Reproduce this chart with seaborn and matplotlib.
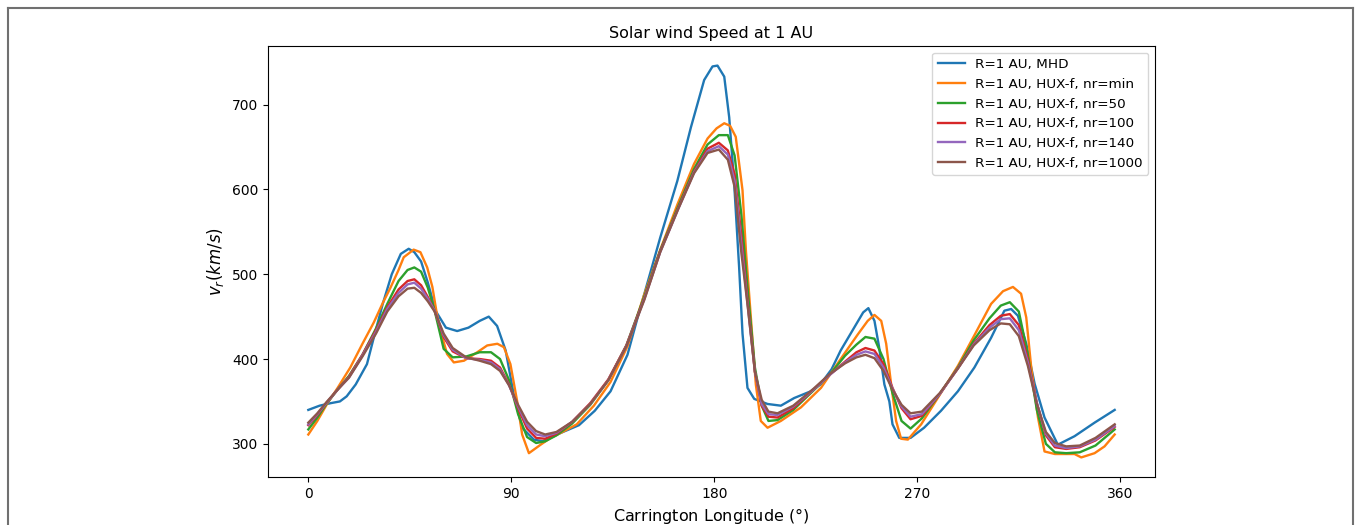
import matplotlib
matplotlib.use("Agg")
import matplotlib.pyplot as plt
import seaborn as sns
import pandas as pd
from matplotlib.lines import Line2D

# ---------------- data ----------------
MHD_LON = [0, 5, 10, 14, 17, 21, 26, 29, 33, 37, 41, 44.5, 47, 50, 53, 56.4, 61, 66, 71, 76,
           80, 83.7, 87.5, 91, 94.8, 100, 104, 107, 112, 120, 127, 134, 141.5, 146, 149, 156,
           163.6, 169.6, 175.5, 179.2, 181.4, 184.4, 186.6, 188.8, 191, 192.5, 194.7, 197.7,
           203.6, 209.5, 215.4, 222.8, 227, 232, 236, 242, 246, 248.3, 251, 253, 255.4, 257.6,
           259, 262, 267, 273, 280.5, 288, 295.3, 302.7, 308.6, 311.6, 314.6, 318.3, 322, 326.4,
           332.3, 339.7, 348.6, 357.5]
MHD_V = [340, 345, 348, 350, 356, 370, 394, 425, 465, 500, 524, 530, 526, 515, 490, 457, 437,
         433, 437, 445, 450, 439, 410, 359, 319, 305, 303, 307, 313, 322, 339, 362, 405, 449,
         477, 543, 610, 673, 729, 745, 746, 733, 685, 607, 508, 430, 366, 353, 347, 345, 354,
         362, 370, 388, 410, 437, 455, 460, 445, 415, 370, 350, 323, 307, 307, 319, 339, 362,
         390, 425, 457, 459, 451, 418, 371, 331, 299, 309, 325, 340]

MIN_LON = [0, 4, 8.3, 13, 18.6, 24, 29, 33, 36.4, 40, 42.3, 46.7, 49.7, 52.7, 55, 57, 59, 61.5,
           64.5, 69, 74.9, 79.3, 83.8, 86.7, 89.6, 92.6, 94.8, 97.8, 103, 107.4, 112, 119, 126.6,
           134, 141.5, 148.8, 156.2, 163.6, 171, 177, 181, 184.4, 187, 189.5, 192.5, 194, 196.2,
           198.4, 200.6, 203.6, 209.5, 218.4, 227.3, 236, 243.6, 248, 251, 254, 256.2, 258.4,
           260.6, 262.8, 265.8, 271.7, 280, 288, 295.3, 302.7, 308, 312.4, 316, 318.3, 320.5,
           323.5, 326.4, 331, 339.7, 342.7, 348.6, 353, 357.5]
MIN_V = [311, 327, 347, 366, 390, 418, 443, 466, 484, 505, 520, 529, 526, 508, 485, 453, 430,
         406, 396, 398, 408, 416, 418, 414, 394, 350, 311, 289, 299, 307, 313, 323, 345, 373,
         415, 475, 530, 582, 630, 660, 672, 678, 675, 662, 599, 528, 449, 370, 327, 319, 327,
         343, 366, 400, 429, 445, 452, 445, 418, 370, 327, 306, 305, 323, 358, 392, 428, 465,
         480, 485, 477, 449, 390, 331, 291, 288, 288, 284, 289, 297, 311]

HUX_LON = [0, 4, 8, 13, 18, 24, 30, 35, 40, 44, 47, 50, 53, 56, 60, 64, 70, 76, 81, 85, 89, 93,
           97, 101, 105, 110, 117, 125, 133, 141, 149, 156, 164, 171, 177, 182, 186, 189, 192,
           195, 198, 201, 204, 208, 215, 224, 231, 238, 243, 247, 251, 255, 259, 263, 267, 272,
           280, 288, 295, 302, 307, 311, 315, 319, 323, 327, 331, 336, 342, 349, 357.5]
NR50_V = [317, 331, 347, 364, 380, 405, 436, 465, 492, 505, 508, 503, 484, 457, 412, 402, 403,
          408, 408, 400, 375, 335, 308, 301, 303, 310, 324, 346, 375, 416, 474, 528, 580, 624,
          653, 664, 664, 640, 570, 475, 390, 345, 327, 328, 340, 363, 381, 404, 417, 426, 424,
          400, 360, 327, 318, 330, 359, 390, 422, 448, 463, 467, 456, 405, 340, 300, 290, 289,
          290, 298, 317]
NR100_V = [322, 334, 348, 364, 379, 405, 434, 461, 482, 492, 494, 487, 473, 457, 426, 409, 401,
           400, 398, 390, 370, 342, 318, 307, 306, 312, 326, 348, 376, 416, 472, 527, 578, 621,
           648, 655, 646, 618, 545, 462, 385, 345, 332, 331, 342, 364, 381, 397, 408, 413, 410,
           394, 366, 342, 329, 333, 359, 389, 418, 440, 451, 453, 440, 400, 348, 310, 296, 294,
           296, 304, 320]
NR140_V = [323, 335, 348, 364, 378, 404, 432, 459, 478, 488, 490, 483, 471, 457, 428, 411, 401,
           399, 396, 388, 369, 344, 322, 311, 309, 313, 326, 347, 375, 415, 471, 526, 577, 620,
           645, 651, 641, 610, 535, 458, 385, 347, 335, 334, 344, 364, 381, 396, 405, 409, 406,
           390, 365, 344, 332, 335, 359, 389, 417, 437, 447, 448, 434, 396, 348, 312, 298, 295,
           297, 305, 321]
NR1000_V = [325, 336, 349, 364, 378, 403, 430, 456, 474, 483, 484, 478, 468, 456, 430, 413, 402,
            398, 394, 386, 369, 346, 326, 315, 311, 314, 326, 347, 375, 415, 470, 526, 577, 619,
            643, 647, 635, 603, 525, 458, 385, 352, 338, 336, 345, 365, 382, 395, 402, 405, 401,
            386, 364, 346, 336, 338, 360, 389, 416, 434, 442, 441, 427, 392, 347, 314, 301, 297,
            298, 307, 323]

LABELS = ["R=1 AU, MHD", "R=1 AU, HUX-f, nr=min", "R=1 AU, HUX-f, nr=50",
          "R=1 AU, HUX-f, nr=100", "R=1 AU, HUX-f, nr=140", "R=1 AU, HUX-f, nr=1000"]
XTICKS = [0, 90, 180, 270, 360]
YTICKS = [300, 400, 500, 600, 700]

# ---------------- figure ----------------
plt.rcParams["font.family"] = ["DejaVu Sans"]
fig = plt.figure(figsize=(13.56, 5.25), dpi=100)
ax = fig.add_axes([268 / 1356, 48 / 525, (1155 - 268) / 1356, (477 - 46) / 525])

series = [(MHD_LON, MHD_V), (MIN_LON, MIN_V), (HUX_LON, NR50_V),
          (HUX_LON, NR100_V), (HUX_LON, NR140_V), (HUX_LON, NR1000_V)]
colors = sns.color_palette("tab10", 6)
for (lon, v), lab, c in zip(series, LABELS, colors):
    df = pd.DataFrame({"lon": lon, "v": v})
    sns.lineplot(data=df, x="lon", y="v", ax=ax, color=c, label=lab,
                 linewidth=1.7, estimator=None, sort=False)

ax.set_xticks(XTICKS)
ax.set_yticks(YTICKS)
ax.tick_params(labelsize=10)
ax.set_xlabel("Carrington Longitude ($\\degree$)", fontsize=11.5)
ax.set_ylabel(r"$v_r (km/s)$", fontsize=12)
ax.set_title("Solar wind Speed at 1 AU", fontsize=11.5)
ax.legend(loc="upper right", fontsize=9.7)
ax.margins(x=0.05, y=0.05)

# outer frame of the screenshot
frame_c = "#707070"
fig.add_artist(Line2D([8 / 1356, 1353 / 1356], [1 - 8 / 525, 1 - 8 / 525],
                      transform=fig.transFigure, color=frame_c, lw=1.5))
fig.add_artist(Line2D([8 / 1356, 8 / 1356], [1 - 8 / 525, -0.1],
                      transform=fig.transFigure, color=frame_c, lw=1.5))
fig.add_artist(Line2D([1353 / 1356, 1353 / 1356], [1 - 8 / 525, -0.1],
                      transform=fig.transFigure, color=frame_c, lw=1.5))

fig.savefig("out.png", dpi=100)
